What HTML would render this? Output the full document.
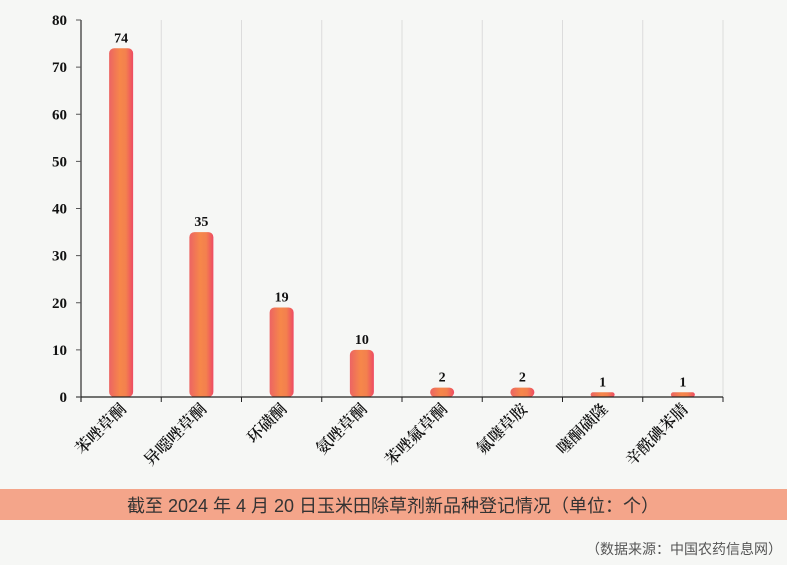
<!DOCTYPE html>
<html><head><meta charset="utf-8"><style>
body{margin:0;background:#f6f7f5;}
svg{display:block;}
</style></head><body>
<svg width="787" height="565" viewBox="0 0 787 565">
<defs>
<linearGradient id="g" x1="0" x2="1" y1="0" y2="0">
<stop offset="0" stop-color="#ec6463"/><stop offset="0.45" stop-color="#f6874a"/><stop offset="0.7" stop-color="#f3804e"/><stop offset="1" stop-color="#ee4a63"/>
</linearGradient>
</defs>
<g id="grid"></g>
<g id="bars"></g>
<g id="axes"></g>
<rect x="0" y="489" width="787" height="31" fill="#f4a58a"/>
<text x="393" y="512" text-anchor="middle" font-family="'Liberation Sans','Noto Sans CJK SC',sans-serif" font-size="18" fill="#333">截至 2024 年 4 月 20 日玉米田除草剂新品种登记情况（单位：个）</text>
<text x="782" y="554" text-anchor="end" font-family="'Liberation Sans','Noto Sans CJK SC',sans-serif" font-size="14" fill="#555">（数据来源：中国农药信息网）</text>
</svg>
<script>
const categories=["苯唑草酮","异噁唑草酮","环磺酮","氨唑草酮","苯唑氟草酮","氟噻草胺","噻酮磺隆","辛酰碘苯腈"];
const values=[74,35,19,10,2,2,1,1];
const yTicks=[0,10,20,30,40,50,60,70,80];
const NS="http://www.w3.org/2000/svg";
const x0=81,x1=723,y0=397,y1=20,yMax=80;
const band=(x1-x0)/categories.length;
const y=v=>y0-(v/yMax)*(y0-y1);
const xc=i=>x0+band*(i+0.5);
function mk(t,a,p){const e=document.createElementNS(NS,t);for(const k in a)e.setAttribute(k,a[k]);p.appendChild(e);return e;}
const grid=document.getElementById('grid'),bars=document.getElementById('bars'),axes=document.getElementById('axes');
const serif="'Liberation Serif','Noto Serif CJK SC',serif";
for(let i=1;i<=categories.length;i++){
 const gl=mk('line',{x1:x0+band*i,x2:x0+band*i,y1:y1,y2:y0,stroke:'#dcdcdc','stroke-width':1},grid);
 
 
}
categories.forEach((c,i)=>{
 const w=24,h=y0-y(values[i]);
 const r=mk('rect',{x:xc(i)-w/2,y:y(values[i]),width:w,height:h,rx:Math.min(5,h/2),fill:'url(#g)'},bars);
 
 
 const t=mk('text',{x:xc(i),y:y(values[i])-6,'text-anchor':'middle','font-family':serif,'font-size':14,'font-weight':'bold',fill:'#111'},bars);
 t.textContent=values[i];
 
 
 const lx=xc(i)+6,ly=410;
 const l=mk('text',{x:lx,y:ly,'text-anchor':'end','font-family':serif,'font-size':16,'font-weight':600,fill:'#111',transform:`rotate(-45 ${lx} ${ly})`},axes);
 l.textContent=c;
 
 
 const tk=mk('line',{x1:x0+band*(i+1),x2:x0+band*(i+1),y1:y0,y2:y0+5,stroke:'#222'},axes);
 
 
});
const ya=mk('line',{x1:x0,x2:x0,y1:y1,y2:y0+5,stroke:'#555','stroke-width':1.5},axes);


const xa=mk('line',{x1:x0-5,x2:x1,y1:y0,y2:y0,stroke:'#222','stroke-width':1.2},axes);


yTicks.forEach(v=>{
 const tk=mk('line',{x1:x0-5,x2:x0,y1:y(v),y2:y(v),stroke:'#555'},axes);
 
 
 const t=mk('text',{x:x0-14,y:y(v)+5,'text-anchor':'end','font-family':serif,'font-size':15,'font-weight':'bold',fill:'#111'},axes);
 t.textContent=v;
 
 
});
</script>
</body></html>
